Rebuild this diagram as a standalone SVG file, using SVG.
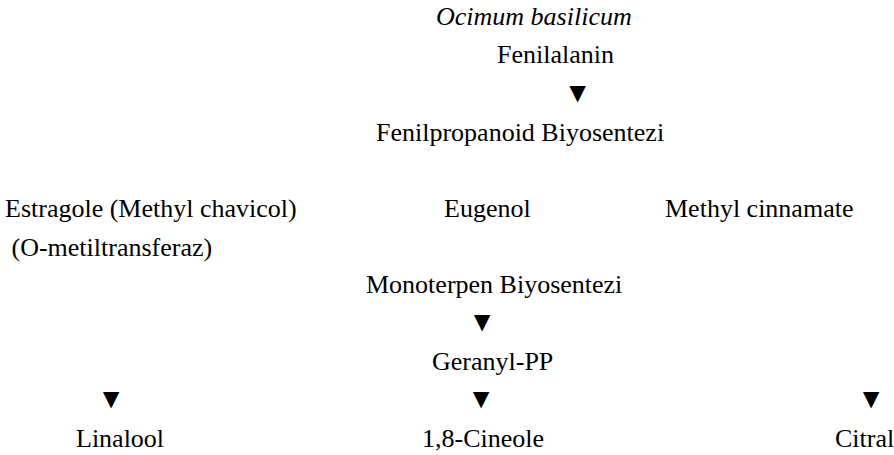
<svg xmlns="http://www.w3.org/2000/svg" width="894" height="455" viewBox="0 0 894 455">
<style>
.t{font-family:"Liberation Serif","Times New Roman",Times,serif;font-size:26px;fill:#000}
.it{font-style:italic}
.arr{font-size:28px;text-anchor:middle}
</style>
<rect width="894" height="455" fill="#fff"/>
<g class="t">
<g id="title"><text class="it" x="436" y="25">Ocimum basilicum</text></g>
<g id="fenilalanin"><text x="497" y="63">Fenilalanin</text></g>
<g id="fenilpropanoid"><text x="376" y="141">Fenilpropanoid Biyosentezi</text></g>
<g id="estragole"><text x="5" y="217">Estragole (Methyl chavicol)</text><text x="5" y="256" xml:space="preserve"> (O-metiltransferaz)</text></g>
<g id="eugenol"><text x="444" y="217">Eugenol</text></g>
<g id="methylcinnamate"><text x="665" y="217">Methyl cinnamate</text></g>
<g id="monoterpen"><text x="366" y="293">Monoterpen Biyosentezi</text></g>
<g id="geranyl"><text x="432" y="370">Geranyl-PP</text></g>
<g id="linalool"><text x="76" y="447">Linalool</text></g>
<g id="cineole"><text x="422" y="447">1,8-Cineole</text></g>
<g id="citral"><text x="835" y="447">Citral</text></g>
<g id="connectors">
<text class="arr" x="577.5" y="102">▼</text>
<text class="arr" x="482" y="331">▼</text>
<text class="arr" x="111" y="408">▼</text>
<text class="arr" x="481" y="408">▼</text>
<text class="arr" x="871" y="408">▼</text>
</g>
</g>
</svg>
